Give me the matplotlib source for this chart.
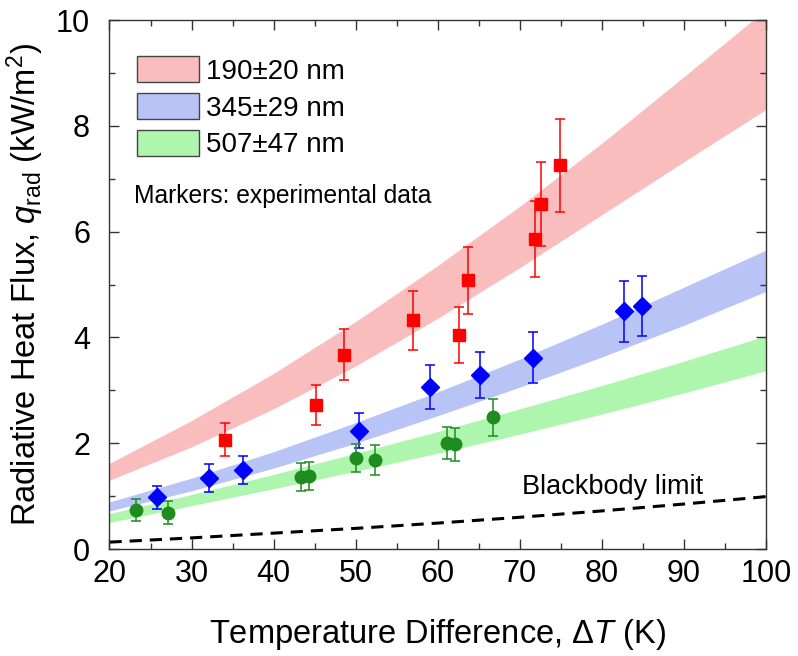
import matplotlib
matplotlib.use('Agg')
import matplotlib.pyplot as plt
from matplotlib.patches import Patch
from matplotlib.ticker import MultipleLocator

plt.rcParams['font.family'] = ['Liberation Sans', 'DejaVu Sans']
plt.rcParams['mathtext.fontset'] = 'custom'
plt.rcParams['mathtext.rm'] = 'Liberation Sans'
plt.rcParams['mathtext.it'] = 'Liberation Sans:italic'

# Measured heat flux (kW/m^2) with error bars, per film thickness
red_x = [34.1, 45.2, 48.6, 57.0, 62.6, 63.7, 71.9, 72.6, 74.9]
red_y = [2.07, 2.72, 3.67, 4.32, 4.04, 5.08, 5.86, 6.52, 7.25]
red_err = [0.32, 0.38, 0.48, 0.56, 0.53, 0.63, 0.71, 0.79, 0.87]

blue_x = [25.8, 32.1, 36.3, 50.4, 59.0, 65.1, 71.6, 82.7, 84.9]
blue_y = [0.98, 1.34, 1.49, 2.24, 3.06, 3.29, 3.62, 4.49, 4.59]
blue_err = [0.22, 0.26, 0.27, 0.33, 0.41, 0.44, 0.48, 0.57, 0.57]

green_x = [23.2, 27.1, 43.3, 44.3, 50.0, 52.3, 61.1, 62.1, 66.7]
green_y = [0.74, 0.69, 1.36, 1.38, 1.72, 1.68, 2.00, 1.98, 2.49]
green_err = [0.21, 0.21, 0.27, 0.27, 0.27, 0.28, 0.30, 0.31, 0.35]

# Calculated bands (thickness uncertainty) and blackbody limit
band_x = [20, 30, 40, 50, 60, 70, 80, 90, 100]
red_lo = [1.30, 1.93, 2.65, 3.46, 4.36, 5.32, 6.32, 7.32, 8.31]
red_hi = [1.62, 2.43, 3.32, 4.30, 5.36, 6.48, 7.67, 8.93, 10.2]
blue_lo = [0.72, 1.10, 1.53, 2.00, 2.52, 3.06, 3.63, 4.23, 4.87]
blue_hi = [0.89, 1.34, 1.84, 2.39, 2.97, 3.59, 4.25, 4.95, 5.65]
green_lo = [0.50, 0.82, 1.14, 1.47, 1.81, 2.17, 2.55, 2.95, 3.37]
green_hi = [0.67, 1.03, 1.41, 1.81, 2.22, 2.65, 3.09, 3.55, 4.03]
blackbody = [0.13, 0.21, 0.30, 0.39, 0.49, 0.60, 0.72, 0.85, 0.99]

labels = ['190\u00b120 nm', '345\u00b129 nm', '507\u00b147 nm']
band_colors = ['#f9bdbd', '#b9c4f6', '#aef5ae']

fig = plt.figure(figsize=(7.98, 6.56), dpi=100)
ax = fig.add_axes([0.1372, 0.1631, 0.8227, 0.8064])

ax.fill_between(band_x, red_lo, red_hi, color=band_colors[0], lw=0)
ax.fill_between(band_x, blue_lo, blue_hi, color=band_colors[1], lw=0)
ax.fill_between(band_x, green_lo, green_hi, color=band_colors[2], lw=0)

ax.plot(band_x, blackbody, color='black', lw=2.2, dashes=(4, 2.6))

ax.errorbar(red_x, red_y, yerr=red_err, fmt='s', color='#ff0000', ms=8.8,
            elinewidth=1.1, capsize=3.5, capthick=1.1)
ax.errorbar(blue_x, blue_y, yerr=blue_err, fmt='D', color='#0000ff', ms=9,
            elinewidth=1.1, capsize=3.5, capthick=1.1)
ax.errorbar(green_x, green_y, yerr=green_err, fmt='o', color='#1e8c1e', ms=9,
            elinewidth=1.1, capsize=3.5, capthick=1.1)

ax.set_xlim(20, 100)
ax.set_ylim(0, 10)
ax.xaxis.set_major_locator(MultipleLocator(10))
ax.xaxis.set_minor_locator(MultipleLocator(5))
ax.yaxis.set_major_locator(MultipleLocator(2))
ax.yaxis.set_minor_locator(MultipleLocator(1))
ax.tick_params(which='both', direction='in', top=True, right=True, width=1, color='#333333')
ax.tick_params(which='major', length=7)
ax.tick_params(which='minor', length=4)
ax.tick_params(axis='x', labelsize=22, pad=7)
ax.tick_params(axis='y', labelsize=22, pad=14)
for s in ax.spines.values():
    s.set_linewidth(1.0)
    s.set_color('#333333')

ax.set_xlabel(r'Temperature Difference, $\Delta T$ (K)', fontsize=23.5, labelpad=20)
ax.set_ylabel(r'Radiative Heat Flux, $q_{\rm rad}$ (kW/m$^2$)', fontsize=23.5, labelpad=7)

handles = [Patch(facecolor=c, edgecolor='#444444', lw=1) for c in band_colors]
ax.legend(handles, labels, loc='upper left', bbox_to_anchor=(0.0415, 0.932),
          frameon=False, fontsize=20, handlelength=2.23, handleheight=1.08,
          handletextpad=0.28, labelspacing=0.3, borderpad=0, borderaxespad=0)

ax.text(0.037, 0.667, 'Markers: experimental data', transform=ax.transAxes,
        fontsize=17.7, va='center', ha='left')
ax.text(0.628, 0.104, 'Blackbody limit', transform=ax.transAxes,
        fontsize=19.5, va='baseline', ha='left')

fig.savefig('out.png', dpi=100)
